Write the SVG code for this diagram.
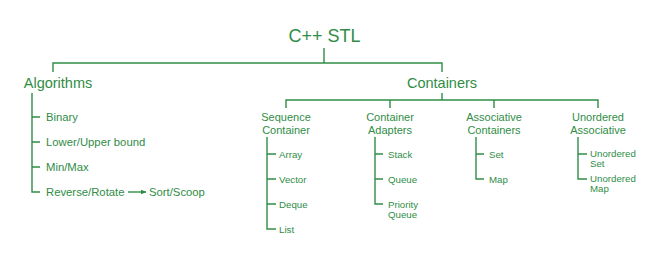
<svg xmlns="http://www.w3.org/2000/svg" width="660" height="261" viewBox="0 0 660 261">
<defs>
<style>
text{font-family:"Liberation Sans",Arial,sans-serif;fill:#2f8d46}
.t{font-size:18px}
.h{font-size:14.5px}
.m{font-size:11.3px}
.c{font-size:11px}
.s{font-size:9.7px}
.mid{text-anchor:middle}
.ln{stroke:#2f8d46;stroke-width:1.4;fill:none}
</style>
<marker id="ah" viewBox="0 0 10 10" refX="9" refY="5" markerWidth="6" markerHeight="6" orient="auto" markerUnits="userSpaceOnUse"><path d="M0,1 L10,5 L0,9 z" fill="#2f8d46"/></marker>
</defs>
<rect width="660" height="261" fill="#fff"/>
<g id="connectors" class="ln">
<path d="M324,48V63M53,72V63H442V72"/>
<path d="M442,93V100M286,108V100H598V108M390,100V108M494,100V108"/>
<path d="M32,93V192H40M32,117H40M32,142H40M32,167H40"/>
<path d="M128,192H146" marker-end="url(#ah)"/>
<path d="M267,137V229H276M267,154H276M267,179H276M267,204H276"/>
<path d="M375,137V204H383M375,154H383M375,179H383"/>
<path d="M476,137V179H484M476,154H484"/>
<path d="M578,137V179H587M578,154H587"/>
</g>
<g id="root"><text class="t mid" x="324.5" y="42">C++ STL</text></g>
<g id="algorithms"><text class="h mid" x="58" y="88">Algorithms</text></g>
<g id="containers"><text class="h mid" x="442" y="88">Containers</text></g>
<g id="binary"><text class="m" x="46" y="121">Binary</text></g>
<g id="bound"><text class="m" x="46" y="146">Lower/Upper bound</text></g>
<g id="minmax"><text class="m" x="46" y="171">Min/Max</text></g>
<g id="reverse"><text class="m" x="46" y="196">Reverse/Rotate</text></g>
<g id="sort"><text class="m" x="149" y="196">Sort/Scoop</text></g>
<g id="sequence"><text class="c mid" x="286" y="121">Sequence</text><text class="c mid" x="286" y="134">Container</text></g>
<g id="adapters"><text class="c mid" x="390" y="121">Container</text><text class="c mid" x="390" y="134">Adapters</text></g>
<g id="associative"><text class="c mid" x="494" y="121">Associative</text><text class="c mid" x="494" y="134">Containers</text></g>
<g id="unordered"><text class="c mid" x="598" y="121">Unordered</text><text class="c mid" x="598" y="134">Associative</text></g>
<g id="array"><text class="s" x="279" y="158">Array</text></g>
<g id="vector"><text class="s" x="279" y="183">Vector</text></g>
<g id="deque"><text class="s" x="279" y="208">Deque</text></g>
<g id="list"><text class="s" x="279" y="233">List</text></g>
<g id="stack"><text class="s" x="388" y="158">Stack</text></g>
<g id="queue"><text class="s" x="388" y="183">Queue</text></g>
<g id="pqueue"><text class="s" x="388" y="208">Priority</text><text class="s" x="388" y="218">Queue</text></g>
<g id="set"><text class="s" x="489" y="158">Set</text></g>
<g id="map"><text class="s" x="489" y="183">Map</text></g>
<g id="uset"><text class="s" x="590" y="157">Unordered</text><text class="s" x="590" y="167">Set</text></g>
<g id="umap"><text class="s" x="590" y="182">Unordered</text><text class="s" x="590" y="192">Map</text></g>
</svg>
